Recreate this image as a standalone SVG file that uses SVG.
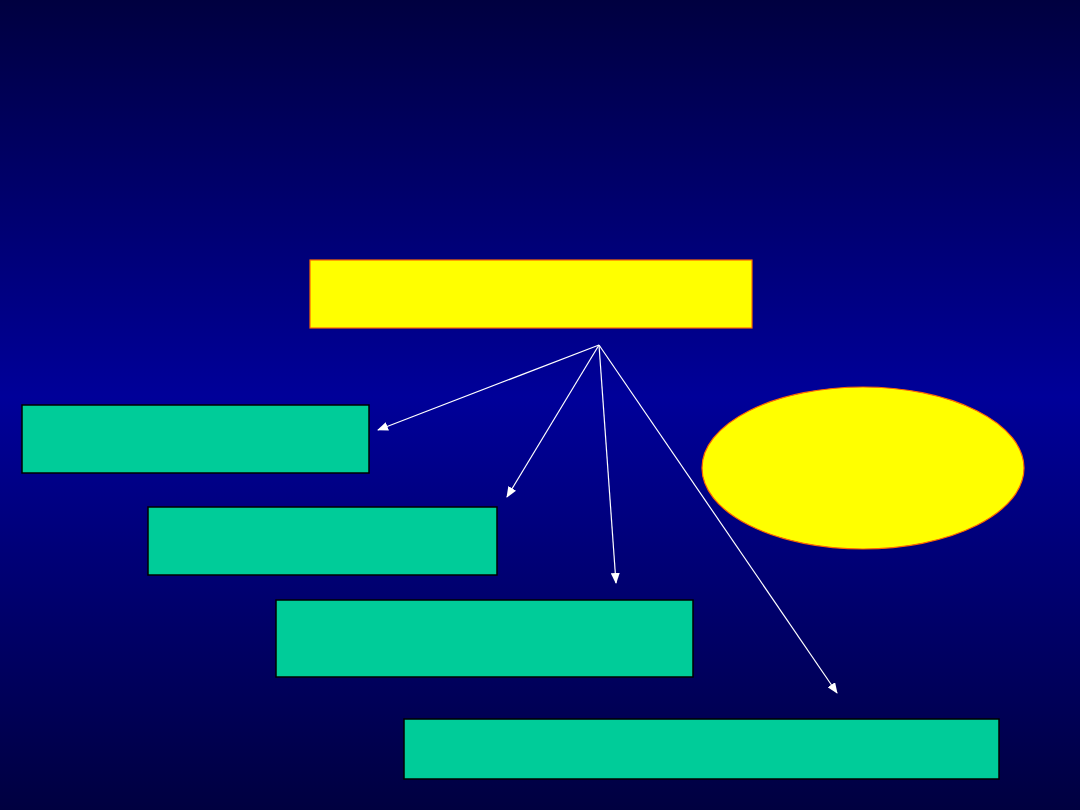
<svg xmlns="http://www.w3.org/2000/svg" width="1080" height="810" viewBox="0 0 1080 810">
<defs>
<linearGradient id="bg" x1="0" y1="0" x2="0" y2="1">
<stop offset="0" stop-color="#000040"/>
<stop offset="0.49" stop-color="#000099"/>
<stop offset="1" stop-color="#000040"/>
</linearGradient>
<marker id="ah" markerWidth="11" markerHeight="9" refX="10" refY="4.5" orient="auto" markerUnits="userSpaceOnUse">
<path d="M0,0 L11,4.5 L0,9 Z" fill="#FFFFFF"/>
</marker>
<style>
.y{fill:#FFFF00;stroke:#FF6600;stroke-width:1.2}
.g{fill:#00CC99;stroke:#000000;stroke-width:1.5}
.c{stroke:#FFFFFF;stroke-width:1.2;fill:none;marker-end:url(#ah)}
</style>
</defs>
<rect width="1080" height="810" fill="url(#bg)"/>
<g id="top"><rect class="y" x="310" y="260" width="442" height="68"/></g>
<g id="ellipse"><ellipse class="y" cx="863" cy="468" rx="161" ry="81"/></g>
<g id="box1"><rect class="g" x="22" y="405" width="347" height="68"/></g>
<g id="box2"><rect class="g" x="148" y="507" width="349" height="68"/></g>
<g id="box3"><rect class="g" x="276" y="600" width="417" height="77"/></g>
<g id="box4"><rect class="g" x="404" y="719" width="595" height="60"/></g>
<g id="connectors">
<line class="c" x1="599" y1="345" x2="378" y2="430"/>
<line class="c" x1="599" y1="345" x2="507" y2="497"/>
<line class="c" x1="599" y1="345" x2="616" y2="583"/>
<line class="c" x1="599" y1="345" x2="837" y2="693"/>
</g>
</svg>
